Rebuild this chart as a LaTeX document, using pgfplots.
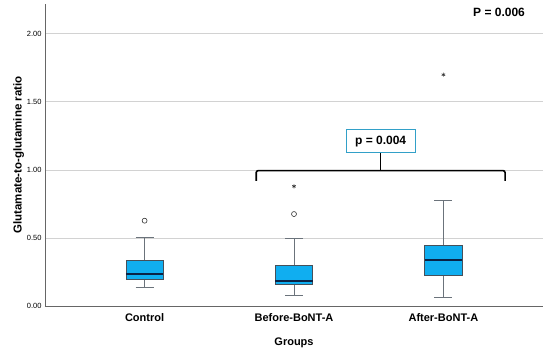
\documentclass[border=0pt]{standalone}
\usepackage{fontspec}
\setmainfont{Liberation Sans}
\usepackage{pgfplots}
\pgfplotsset{compat=1.18}
\usepgfplotslibrary{statistics}
\definecolor{boxfill}{RGB}{16,174,240}
\definecolor{boxedge}{RGB}{70,80,90}
\definecolor{medcol}{RGB}{10,35,70}
\definecolor{gridc}{RGB}{210,210,210}
\definecolor{pbox}{RGB}{50,160,200}
\begin{document}
\begin{tikzpicture}
\useasboundingbox (-45pt,-49pt) rectangle (505pt,306pt);
\begin{axis}[
  at={(0,0)}, anchor=south west,
  scale only axis, width=498pt, height=302pt,
  xmin=0.3333, xmax=3.6667, ymin=0, ymax=2.22,
  axis x line*=bottom, axis y line*=left,
  axis line style={draw=gray!80!black, line width=0.8pt},
  x axis line style={-}, y axis line style={-},
  xtick={1,2,3}, xticklabels={Control,Before-BoNT-A,After-BoNT-A},
  xticklabel style={font=\fontsize{11}{12}\selectfont\bfseries, yshift=-4pt},
  ytick={0,0.5,1,1.5,2},
  yticklabel style={font=\fontsize{7.5}{8}\selectfont, /pgf/number format/fixed, /pgf/number format/fixed zerofill, /pgf/number format/precision=2},
  /pgf/number format/assume math mode=true,
  major tick length=0pt,
  ymajorgrids, grid style={gridc, line width=0.9pt},
  xlabel={\bfseries Groups}, xlabel style={font=\fontsize{11}{12}\selectfont, yshift=-9pt},
  ylabel={\bfseries Glutamate-to-glutamine ratio}, ylabel style={font=\fontsize{11.5}{12}\selectfont, yshift=-4pt},
  boxplot/draw direction=y,
  boxplot/every box/.style={fill=boxfill, draw=boxedge, line width=0.6pt},
  boxplot/every whisker/.style={draw=boxedge!80, line width=0.6pt},
  boxplot/every median/.style={draw=medcol, line width=2.2pt},
  clip=false,
]
\addplot+[boxplot prepared={median=0.237, upper quartile=0.333, lower quartile=0.196, upper whisker=0.505, lower whisker=0.14, draw position=1, box extend=0.25, whisker extend=0.12},
  draw=boxedge, mark=o, mark size=2.5pt, mark options={draw=black!80, line width=0.6pt, fill=none}]
  coordinates {(0,0.627)};
\addplot+[boxplot prepared={median=0.184, upper quartile=0.296, lower quartile=0.159, upper whisker=0.50, lower whisker=0.076, draw position=2, box extend=0.25, whisker extend=0.12},
  draw=boxedge, mark=o, mark size=2.5pt, mark options={draw=black!80, line width=0.6pt, fill=none}]
  coordinates {(0,0.676)};
\addplot+[boxplot prepared={median=0.34, upper quartile=0.446, lower quartile=0.226, upper whisker=0.774, lower whisker=0.066, draw position=3, box extend=0.25, whisker extend=0.12},
  draw=boxedge, mark=asterisk, mark size=2pt, mark options={draw=black!80, line width=0.6pt}]
  coordinates {(0,1.70)};
\addplot[only marks, mark=asterisk, mark size=2pt, mark options={draw=black!80, line width=0.6pt}]
  coordinates {(2,0.88)};
% bracket
\draw[black, line width=1.6pt, rounded corners=2pt]
  (axis cs:1.747,0.92) -- (axis cs:1.747,0.995) -- (axis cs:3.413,0.995) -- (axis cs:3.413,0.92);
\draw[black, line width=1.6pt] (axis cs:2.58,0.995) -- (axis cs:2.58,1.125);
\node[draw=pbox, line width=0.8pt, fill=white, minimum width=69pt, minimum height=23pt, inner sep=0pt, font=\fontsize{12}{13}\selectfont\bfseries]
  at (axis cs:2.58,1.21) {p = 0.004};
\node[anchor=east, inner sep=0pt, font=\fontsize{12}{13}\selectfont\bfseries] at (axis cs:3.547,2.16) {P = 0.006};
\end{axis}
\end{tikzpicture}
\end{document}
